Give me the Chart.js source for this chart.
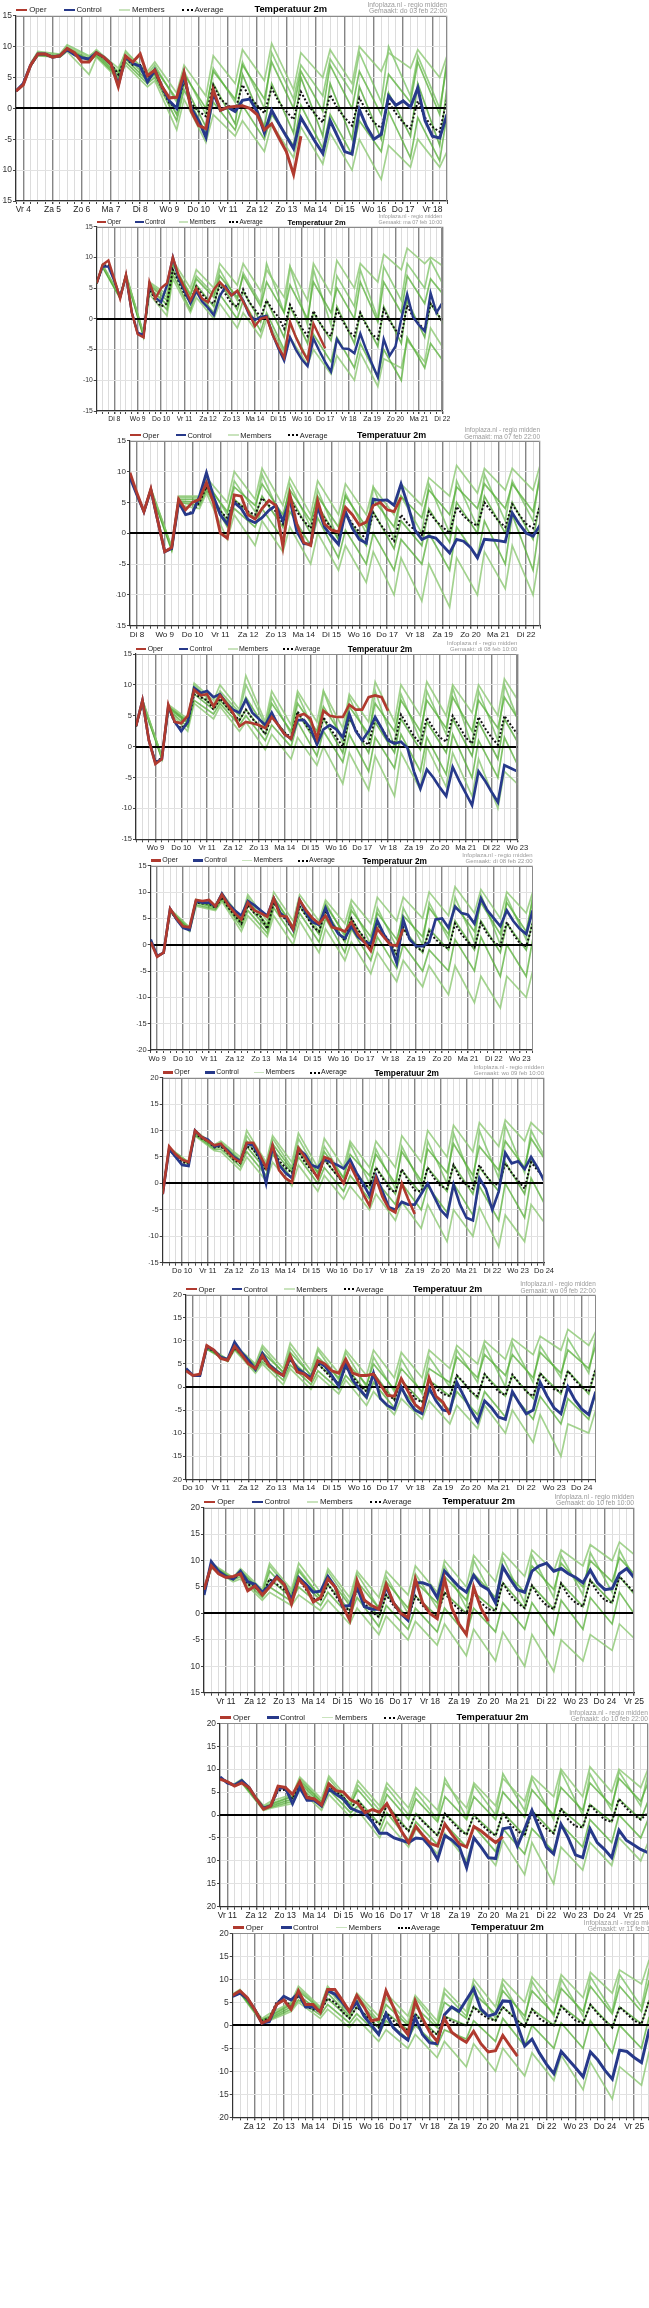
<!DOCTYPE html>
<html lang="nl">
<head>
<meta charset="utf-8"/>
<title>Temperatuur 2m pluimen</title>
<script src="https://cdn.jsdelivr.net/npm/chart.js"></script>
<style>
  html, body { margin: 0; padding: 0; background: #fff; overflow: hidden; }
  body { width: 649px; height: 2308px; position: relative; font-family: "Liberation Sans", Arial, sans-serif; }
  canvas { position: absolute; left: 0; }
  .txt { position: absolute; white-space: nowrap; color: #222; }
  .swatch { position: absolute; }
</style>
</head>
<body>
<script>
// dag-namen (7 feb 2022 = maandag)
const dayNames = ['Ma', 'Di', 'Wo', 'Do', 'Vr', 'Za', 'Zo'];
// modelrun per pluim (dag in februari, .5 = 12 UTC)
const runTimes = [3.5, 7, 7.5, 8, 8.5, 9, 9.5, 10, 10.5, 11];
const madeAt = ['do 03 feb 22:00', 'ma 07 feb 10:00', 'ma 07 feb 22:00', 'di 08 feb 10:00', 'di 08 feb 22:00',
                'wo 09 feb 10:00', 'wo 09 feb 22:00', 'do 10 feb 10:00', 'do 10 feb 22:00', 'vr 11 feb 10:00'];
const yRanges = [[-15, 15], [-15, 15], [-15, 15], [-15, 15], [-20, 15], [-15, 20], [-20, 20], [-15, 20], [-20, 20], [-20, 20]];

// ---- pluim 1 (do 03 feb 22:00) ----
const p1Oper = [2.8,3.8,7,8.8,8.8,8.3,8.5,9.7,9,7.5,7.5,9,8.3,7.2,3.5,8.5,7.5,8.8,5.3,6.2,3.5,1.7,1.8,5.8,-0.5,-2.8,-3.3,3,-0.3,0.2,0.3,0.4,0,-1,-3.5,-2.5,-4.8,-7,-10.7,-4.5];
const p1Control = [2.8,4,7,8.8,8.8,8.3,8.5,9.5,8.7,8.2,8,9,8.3,7.2,3.8,8.3,7.3,6.8,4.3,6.2,3.5,1.2,0,5.5,0,-2,-4.7,2.5,-0.3,0.2,-0.5,1.3,1.5,-0.5,-4,-0.3,-2.5,-4.5,-6.5,-1.5,-3.5,-5.5,-7.3,-2,-4.5,-7,-7.4,-0.2,-3,-5,-4.2,2,0.5,1.2,0.2,3.3,-2,-4.5,-4.8,-1];
const p1Average = [2.8,3.9,7,8.8,8.8,8.3,8.5,9.6,8.8,8.2,8,8.9,8.2,7.2,5.5,8.2,7,7,5,5.8,3.2,0.8,0.2,4.5,0.8,-0.5,-1.3,3.8,1.5,0.5,-0.3,3.8,1.8,0.5,-0.8,3.3,1,-0.5,-1.8,2.7,0.5,-1,-2.3,2.2,0,-1.5,-2.8,1.7,-0.5,-2.3,-3.2,1,-0.8,-2.3,-3.3,1.2,-1.5,-3,-3.8,1.5];
const p1Members = [
  [7.2,9,8.7,10,8.3,9.5,6.5,9,6,7.5,2.5,7,2,8.5,4,9.5,4.5,10.5,3,9,5,9.5,4,10,6,9,6.5,9.5,5,8.5],
  [7,8.8,8.5,9.8,8,9,5.8,8.5,5,6.5,1.5,5.5,0,6,1.5,7,1.5,7.5,0,6,-0.5,7,0,6,-1,5.5,1,7.5,-1,8],
  [6.8,8.7,8.4,9.6,7.8,8.8,5.3,8,4.5,5.5,-1,4,-3,4,-2.5,5.5,-3,4,-4,5,-4.5,4,-5,3.5,-5,2.5,-4.5,4,-6,3.5],
  [6.8,8.6,8.3,9.4,7.7,8.5,5,7.5,4,5,-2,3,-4,1,-3.5,0.5,-5,-1,-6,0.5,-6.5,-1,-7.5,-2,-7,-0.5,-8,-1.5,-8.5,-1],
  [7,8.5,8.3,9.2,5.5,8.3,4.7,7,3.5,4.5,-3.5,1.5,-5.5,-1,-4.5,-2,-7,-2.5,-8,-3,-9,-4,-10,-5,-11.5,-6,-9.5,-5,-9.5,-7],
  [7.3,9.2,8.8,10.3,8.5,9.3,6,9.3,5.5,7,1,6,-1,6.5,1,7.5,0,9,1.5,7,2,8,2.5,9,1,10,2,8.5,0,7]
];

// ---- pluim 2 (ma 07 feb 10:00) ----
const p2Oper = [5.8,8.8,9.5,6.5,3.3,7.2,1,-2.5,-3,6,3.3,5,5.8,10,7,5,3,5,3.3,2.7,4.8,6,5,3.8,4.6,2.8,1,-1.2,0,0.3,-2.5,-4.5,-6.3,-0.5,-3,-5,-6.7,-0.8,-2.8,-4.8];
const p2Control = [5.8,8.5,8.5,6.2,3.5,7,1,-2.3,-2.6,5.5,3.5,2.7,5.5,10,6.5,4.5,2.5,4.5,2.8,1.8,0.6,3.7,5.3,3.8,4.5,3,0.7,-0.2,0.3,0.5,-2.5,-4.8,-6.8,-3,-5,-6.6,-7.7,-3.2,-5.2,-7,-8.6,-3.3,-4.8,-4.9,-5.6,-2.4,-5,-7.3,-9.5,-3.3,-6,-4.5,0,4,0.3,-1,-2,4.2,1,2.6];
const p2Average = [5.8,8.6,8.8,6.3,3.5,7,1,-2.3,-2.7,5,3,2,2.5,8,6,4,2.8,5.3,4,3,2.5,5.5,4,2.5,2,4.8,2.8,1.5,0.3,3,1.5,0.3,-1.6,2.3,0.5,-1.5,-2.8,1.3,-0.5,-2,-2.8,1.5,-0.3,-2,-2.8,1,-1,-2.5,-3.3,1.6,-0.3,-1.8,-2.8,2.2,0.3,-0.8,-1.8,2.5,1.2,-0.5];
const p2Members = [
  [6,8.8,3.8,7.3,-2.4,6,4,9.5,5,8,5,9,5.5,9,4.5,8,3.5,8.5,3,9,4,9.5,5,9,6,10.5,8,11.5,9,10,8],
  [5.9,8.7,3.6,7.1,-2.5,5.5,3,8.8,3.8,6.5,3.5,7,3.5,7,2,6,1,5.5,0,6,1,5,0,6,-0.5,6,1,7,2.5,6.5,3],
  [5.8,8.6,3.5,7,-2.7,5,2.3,8,2.5,5.5,2,6,1.5,4.5,-0.5,3,-3,2,-4,1,-3.5,2,-4,1,-4.5,2,-4,3,-3,2.5,-2],
  [5.7,8.5,3.4,6.9,-2.8,4.5,1.5,7.2,1.5,4.5,1,4,0,3,-2,1,-5,-1,-6.5,-2.5,-7,-3,-8,-4,-9.5,-5,-10,-3,-8,-4,-8],
  [5.8,8.4,3.3,6.8,-3,4,0.5,6.5,1,3.5,0,2.5,-1.5,1,-3,0,-5.5,-3,-7.5,-5,-9,-6,-10,-5.5,-11,-6.5,-8,-3.5,-7,-1.5,-6],
  [5.9,8.8,3.6,7.2,-2.6,5.8,3.5,9,4,7,4,8,3,7.5,2.5,9,1,8.5,-1,8,-1,7,2,8,0,8.5,3,9,5,9.5,4]
];

// ---- pluim 3 (ma 07 feb 22:00) ----
const p3Oper = [9.8,6.5,3.5,7.2,2,-3,-2.3,5.5,3.8,5,5.5,8.2,5,0,-0.8,6.2,6,3,2.3,4,5.3,4.5,-2.2,6.3,1.5,-1.5,-2,5.3,1.5,0.5,0.2,4.2,3,1.3,1.8,4.5,5,3.8,3.5,5.8];
const p3Control = [9,6.2,3.5,7,2,-3,-2.5,5,3,3.3,6,9.8,6,3,1.5,5,4,2.2,1.7,2.5,3.7,4.5,2,5.5,0.3,-1.7,-1.8,4.3,1,-0.5,-1.8,3.5,0.8,-1,-1.6,5.5,5.3,5.4,4.5,8,4.5,0.5,-1,-0.5,-0.8,-2,-3.2,-1,-1.3,-2.3,-4,-1,-1.1,-1.2,-1.4,3.3,1.5,0,-0.5,1.3];
const p3Average = [9,6.3,3.5,7,2,-2.8,-2.5,5.2,3,3.5,5,7.5,5.5,3.5,2.5,5.2,4.5,3.5,3,5.7,4.5,3.5,1.5,5.7,3.5,2,0.8,4.5,2.3,0.8,-0.3,3.3,1.5,0.2,-1,3.3,1.5,0,-1.3,3,1.5,0.5,-0.3,3.5,2,1,0,4.3,2.8,1.8,1.2,5,3.5,2,1,4.7,3,1.5,0.8,4.5];
const p3Members = [
  [3.7,7.3,-2.2,6,6,9,5,10,5.5,10.5,4.5,9,3,8.5,3,8,3,7.5,3,8,4.5,9,6,11,6.5,10.5,7,10.5,7,11],
  [3.6,7.1,-2.4,5.5,5.5,8,3.5,7.5,4.5,8,3,7,2,6,1,6,1,5.5,1,6,2.5,7,3,7.5,4,8,4,8,3.5,9],
  [3.5,7,-2.5,5.2,5,7.5,2,5.5,2.5,6,1,6,0,4.5,-1,3,-2,3.5,-2.5,2,-2,4,-1.5,5,0,6,0,5,-1,5],
  [3.4,6.9,-2.7,5,4.5,7,1,4,1,4,-1,3.5,-2,2.5,-4,0.5,-5,0,-6,-1,-5,0,-6,1,-4,2,-5,3,-6,2],
  [3.4,6.8,-2.8,4.5,4,6.5,-1,3,-2,2,-3,1,-5,0,-6,-2,-8,-3,-10,-4,-11,-5,-12,-4,-10,-3,-9,-2,-10,-3],
  [3.6,7.2,-2.3,5.8,5.8,8.5,3,8.5,3.5,9.5,2,8,1,7,-1,6.5,0,7.5,-1,6,0,8,0,8.5,1,9.5,2,8.5,2,10]
];

// ---- pluim 4 (di 08 feb 10:00) ----
const p4Oper = [3.3,7.5,1,-2.8,-2,6.8,4,3.8,5,9.2,8.3,8.5,6.5,8.3,7,5.5,3.3,4,3.8,3.5,3,4.8,3.5,2,1.3,5,5.3,4.5,1.3,5.8,5,4.8,4.8,6.8,6,6,8,8.3,8,5.8];
const p4Control = [3.3,7.5,1,-2.6,-2,6.5,4,2.5,4,9.5,8.7,9,8,8.5,7,6,5.5,7.6,5.5,4.5,3.5,5.5,3.5,2,1.3,4.3,4.3,3,0.3,2.8,3.5,2.8,1.5,5.3,2.5,1,2.5,4.8,3,1,0.5,0.8,-0.2,-4,-6.8,-3.7,-5,-6.6,-8,-3.3,-5.5,-7.5,-9.5,-4,-5.5,-7.3,-9,-3,-3.5,-4];
const p4Average = [3.3,7.3,1,-2.5,-1.8,6.3,3.8,3,3.8,8.5,8,7.5,6,7.8,6.5,5.3,4.3,6,4.5,3.5,2,5,3.5,2.3,1.5,5.7,4,2.5,1,4.8,3,1.5,0,4.8,2.8,1,0.3,4.7,3,1.3,0.5,5.2,3.5,1.7,0.5,4.7,3,1.5,0.8,5,3.3,1.5,0.5,4.8,3,1.5,0.3,5,3.5,2];
const p4Members = [
  [3.4,7.6,-1.6,6.8,4.5,10.3,7.5,10,6,11.5,4,9,3.5,9,4,9,3,8.5,4,10.5,4,10,5,10.5,5,10,5.5,10,5,11,6],
  [3.3,7.4,-1.7,6.5,4,9,6.5,8.5,5,8,3,7,2.5,7,2.5,6.5,1.5,6.5,2,7,2.5,7.5,2.5,7.5,3,8,2.5,7.5,3,8,3],
  [3.3,7.3,-1.8,6.3,3.8,8.5,6,7.5,4.2,6,2,5,1,5.5,0.5,4.5,-1,4.5,-1,4,-1,4.5,-0.5,4,-1,4.5,-1.5,4,-2,4.5,-1],
  [3.2,7.2,-1.9,6,3.2,7.5,5.3,7,3.5,5,1,3.5,0,4,-1.5,2.5,-2.5,2,-4,1.5,-3.5,2,-4,1.5,-4.5,2,-5,1,-5,1.5,-5],
  [3.2,7.1,-2,5.8,2.5,7,4.5,6.5,2.5,4,-0.5,2,-2,1.5,-3,0,-6,-1,-7,-1.5,-8,-1,-7,0,-6.5,-1,-8,-2,-10,-4,-7],
  [3.4,7.5,-1.6,6.6,4.2,10,6.8,9,5.5,10,3.5,8,2,8.5,1.5,9,0.5,8,1,9,0,8.5,1,9,2,9.5,0,9,1,10,2]
];

// ---- pluim 5 (di 08 feb 22:00) ----
const p5Oper = [0.5,-2.3,-1.5,6.8,5,3.5,3.3,8.5,8.3,8.5,7.3,9.5,7.5,6,4.8,8,6.5,6,5.3,8.8,5.5,5.3,3,8.5,6.5,5,4,5.5,3.3,3,2.5,4.3,2,0.5,-1.2,3,1.5,0,-0.2,3];
const p5Control = [1,-2.2,-1.5,6.8,4.8,3.2,2.8,8.3,8,8,7.3,9.7,7.8,6.5,5.5,8.3,7.5,6.5,5.5,8.8,6,5,2.8,8.5,6,4.3,3.8,7,4,2,1.2,3.5,1.5,0.5,0.2,4.6,2,0,-3.5,4.8,1,-0.3,-0.3,0.5,4.8,5,3.2,7.2,6,5.7,4,8.8,6.5,5,3.5,6.5,4.5,3,2,6.5];
const p5Average = [0.8,-2.2,-1.5,6.5,4.8,3.3,3,8,7.8,7.8,7,9,7,5.5,4,7.5,6,5.3,3,8,6,4.5,2.8,7.3,5.5,3.5,2.5,6.5,4,2.3,0.8,5,2.8,1.3,-0.5,4,2,0.5,-1.8,3.3,1,-0.5,-1.2,2.5,1,0,-0.8,4,2,0.5,-0.5,4.2,2,0.5,-0.3,4.3,2,0.3,-0.3,4];
const p5Members = [
  [-1.3,6.8,3.3,8.6,7.5,9.8,5,9.5,4.5,10,4.5,9.5,4.5,8.5,4,8.5,4,9,4.5,9,5,10,5.5,11,6,10.5,5,10,6,10],
  [-1.4,6.6,3.2,8.2,7.2,9.3,4.5,8.3,3.8,9,3.5,8.3,3.5,7.5,2,6.5,1.5,6,1,5.5,1.5,7,2,7.5,2.5,8,2,8,2.5,8.5],
  [-1.5,6.5,3,8,7,9,4,7.5,3,8,2.8,7.3,2,6.5,0.5,5,-1,4,-2,3,-1.5,3,-1,4.5,-1,4.5,-1.5,4,-1,4.5],
  [-1.6,6.3,2.7,7.6,6.7,8.6,3.3,6.5,2.2,7,1.5,6,0.5,5,-1.5,3,-3,1.5,-4.5,0,-5,-1,-5,1,-5,1.5,-6,0,-6,1],
  [-1.7,6.2,2.5,7.3,6.5,8.2,2.5,5.5,1.5,5.5,0,4.5,-1.5,3,-3,0.5,-5.5,-1.5,-7,-3,-8,-4,-9.5,-4,-11,-6,-12,-6,-10,-5],
  [-1.5,6.7,3.1,8.4,7.3,9.5,4.2,9,3.3,9,3,8.5,2.5,8,1.5,7.5,0,7,-0.5,7,0,8,1,9,0.5,9.5,0,9,1,9.5]
];

// ---- pluim 6 (wo 09 feb 10:00) ----
const p6Oper = [-2,7,5.5,4.5,4,10,8.8,8,7.2,7.5,6,4.8,4,7.7,7.7,5.5,3,7.2,2.5,1,0.2,6.7,5,3,1,5,4.5,2,0,3.5,1,-2,-4.2,1,-2.5,-4.8,-5.5,0,-3,-5.8];
const p6Control = [-2,6.5,5,3.5,3.3,10,8.8,8.3,7,7.3,6.3,5,4.2,7.5,7.2,5,0,7,3.5,2,1,6.5,5.5,3.5,3,4.5,4,3.5,2.8,4.5,2,0,-2.3,1.5,-1.5,-4.5,-5,-3.5,-4,-4,-2,0,-2.5,-5,-6.3,-0.2,-4,-6.5,-7,1,-1,-5,-1.5,5.8,3.8,4.2,2.7,5,3,0.5];
const p6Average = [-1.8,6.5,5,4,3.8,9.5,8.5,8,6.8,7,5.8,4.5,3.8,7,6.5,4.5,2.5,6.5,4.3,3,2,6,4,2.5,1.3,4.5,3,1.5,0,3.3,1.5,-0.5,-0.5,3,1,-1,-1.7,2.7,0.5,-1.3,-1.5,3,1,-0.5,-1,3.5,1,-0.3,-1,3.5,1.5,0,-0.3,3.8,2,0.5,-1,4,2.5,1];
const p6Members = [
  [-1.7,6.8,4,10,7.3,8,5,10,4,9,4,9.5,3,8.5,3,8,3,8,3,9,4,10,5,11,6,11.5,7,12,8,11.5,8],
  [-1.8,6.7,3.9,9.8,7,7.5,4.3,8,3,7.5,2.5,7,2,6,1,5.5,1.5,5.5,0,6,0.5,6.5,2,7.5,1.5,7,2.5,8,3,8.5,3],
  [-1.8,6.5,3.8,9.5,6.8,7,3.8,7,2.5,6.5,2,6,1,4.5,0,3.3,-1,3,-2,2.5,-2,3,-1.5,3.5,-2,3,-1.5,4,-2,4.5,-1],
  [-1.9,6.4,3.6,9.2,6.5,6.5,3.2,6,1.5,5.5,1,5,0,3,-1.5,1.5,-3,0.5,-4,0,-5,-0.5,-5.5,0,-6,-0.5,-7,0,-6.5,1,-6],
  [-2,6.2,3.5,9,6.2,6,2.5,5,0.5,4,-0.5,3.5,-1.5,1.5,-3,-0.5,-5,-2,-7,-3.5,-8.5,-4,-11,-5,-10,-4.5,-12,-6,-11,-4,-9],
  [-1.7,6.6,4,9.8,7,7.8,4.5,9,3.5,8.5,3,8.5,2,7,1,7.5,0,6.5,-1,7,-0.5,8,0,9.5,0,10,1,11,2,10,3]
];

// ---- pluim 7 (wo 09 feb 22:00) ----
const p7Oper = [3.5,2.5,2.8,9,8,6.2,5.8,8.8,7,5,4,6.8,4.5,3.3,2.5,6.8,3.3,2.8,1.5,5.7,5,3.5,3,6,3,2.5,2.5,2.8,0.5,-1.8,-2,1.8,-1,-3.8,-5,2,-2,-3.3,-6];
const p7Control = [4,2.5,2.5,8.8,8,6.5,6,9.7,7.5,5.8,3.8,7.3,4.8,3.5,2.5,6.5,4,3,2,5.5,4.5,2.5,0.2,5,1.5,-0.5,-2.2,3,-2.5,-4,-4.8,0,-3,-5,-5.8,-0.2,-3,-5,-5.3,1,-2,-5,-7.5,-3,-4.5,-6.5,-7,-1,-3.5,-5.8,-5,1,-2,-4.5,-5.8,0,-2.8,-4.8,-6,-1];
const p7Average = [3.8,2.5,2.6,8.5,7.8,6.3,5.8,8.5,7,5.5,4,6.3,4.5,3.3,2.5,6,4,2.8,1.8,5,3.5,1.8,0.8,4.3,2.3,0.3,-1,3,0.5,-1.5,-2.8,1.5,-0.5,-2.5,-3.3,1.5,-0.3,-1.5,-2,2.5,1,-1,-2,2.8,0.8,-1,-1.8,2.7,0.8,-1,-2,3,1,-0.5,-1,3.5,1.5,0,-1,4];
const p7Members = [
  [2.8,8.8,6,9.2,5,9,4,9.5,3.5,8.5,3,8,2.5,8,2,7.5,2,8,4,9,5,10,6,10.5,7,11,8,12.5,9,12],
  [2.7,8.6,5.9,8.8,4.5,7.5,3.3,7.5,2.5,6.5,2,5.5,0.5,5,-0.5,4,-1,4,1,6.5,2,7,2.5,7,2,7.5,3,8,4,9],
  [2.6,8.5,5.8,8.5,4,6.3,2.5,6,1.8,5,0.8,4.3,-1,3,-2.8,1.5,-3.3,1.5,-2,2.5,-2.5,2.8,-2,2.5,-2.5,3,-1.5,3.5,-1.5,4],
  [2.5,8.3,5.6,8.2,3.5,5.5,1.5,4.8,0.5,3.5,-0.5,2.5,-2.5,1,-4.5,-0.5,-5.5,-1,-5,-1,-6,-1,-6.5,-1.5,-7,-2,-8,-2.5,-7,-1],
  [2.4,8.2,5.5,8,3,5,0.5,4,-0.5,2.5,-1.5,1.5,-4,-1,-6,-2.5,-7,-3,-8,-4,-9,-4,-10,-5,-12,-6,-15,-8,-10,-5],
  [2.7,8.7,5.9,9,4.8,8.5,3,8.5,2.5,8,1.5,7.5,0,6.5,-1,6,-1.5,6.5,0,8,1,9,0,9.5,1,9,2,10.5,3,11]
];

// ---- pluim 8 (do 10 feb 10:00) ----
const p8Oper = [4.5,9,7.5,6.8,7,7.5,4.3,5.2,3.5,5,6.8,5.5,1.8,6.5,5,2.2,3,6.5,5,1.5,-1.3,6.2,2.5,1.5,0.8,5.5,2,0,-0.8,6.5,2,0,-1,6.5,1,-2,-4,5,1,-1.5];
const p8Control = [3.5,9.8,8,7,6.5,8,6,5.5,4,5.3,7,5.5,2.5,6.8,5.5,4,4.2,7,5,1.3,1.5,5,1.3,0.8,0.8,5,2,0,-1.3,5.8,5.8,5.3,3,8,6.5,5,4,7.2,5.3,4.5,2,8.8,6.5,4.5,4,8,9,9.5,8,8.5,7.5,6.8,5.8,8.2,5.8,4.5,4.7,7.5,8.5,6.8];
const p8Average = [4,9,7.8,6.8,6.5,7.5,5.5,5,3.5,6.5,5.5,4.5,3,6.5,4.5,2.8,2.5,5.5,3.5,1.5,0.5,4.5,2,0.3,-0.7,3.5,1.5,0,-0.8,3.3,1.5,0,-0.5,4,2,0.8,0,4,2,0.8,0.5,5.8,3.5,2,1,5.3,3,1.5,0.8,5.7,3.3,2,1.3,6.3,4,2.5,2,7,5.5,4];
const p8Members = [
  [4.3,9.5,6.8,8.5,4.5,9.5,4.5,9.5,4,8.5,3,8,3,8,3.5,9,4,10,5,11,6,11.5,7,12,8,12,9,13,10,13.5,10],
  [4.1,9.2,6.6,8,4,8,3.5,8,3,7,1.5,6,1,6,1,6,2,7,2.5,7.5,3,8.5,4,9,4.5,9.5,5,10,6,10.5,6],
  [4,9,6.5,7.5,3.5,6.5,3,6.5,2.5,5.5,0.5,4.5,-0.7,3.5,-0.8,3.3,-0.5,4,0,4,0.5,5.8,1,5.3,0.8,5.7,1.3,6.3,2,7,2],
  [3.9,8.8,6.3,7,3,5,2.3,5,1.5,4,-0.5,3,-2.5,1.5,-3,1,-3.5,1,-4,1,-3.5,2,-3,2,-4,2.5,-3,3,-2,4,-2],
  [3.8,8.6,6,6.5,2.5,4,1.5,3.5,0.5,2.5,-2,1,-4,-0.5,-5,-1.5,-6,-2,-8,-3,-9,-3.5,-10,-4,-11,-5,-9,-4,-7,-2,-6],
  [4.2,9.3,6.7,8.2,4,9,4,8.5,3,8,2,7.5,1,7,0,7.5,1,9,1,10,2,10.5,2,11,3,11,3.5,11.5,4,12,4]
];

// ---- pluim 9 (do 10 feb 22:00) ----
const p9Oper = [7.8,7.3,6.3,7,6,3.5,1.3,2,6.3,6,4.5,7.3,3.8,3.5,2.2,6.8,5.3,5,3.3,2.5,0.5,1.2,0.6,2.5,-0.5,-3.5,-6,-2.5,-4.5,-6.2,-6.8,-2,-4.3,-6.3,-7,-2.5,-3.5,-4.8,-6,-4.7];
const p9Control = [8.3,7,6.5,7.5,6,3.5,1.5,2,5.8,6,2.5,6,3.2,3.2,2,5.7,4.5,3.5,1.5,0.8,0.3,-1.5,-4,-4,-5,-5.5,-6,-5,-5.2,-7,-9.7,-4.5,-5.5,-7,-11.5,-5,-7,-9.3,-9.5,-3,-2.7,-6.8,-3,1,-3,-7,-8.5,-2,-5,-8.7,-9.3,-3,-6,-7.5,-9.3,-3.3,-5.5,-6.5,-7.5,-8.2];
const p9Average = [8,7.3,6.5,7.3,5.8,3.5,1.5,2,5.3,5.5,3.5,7,4,3.5,2.3,6.5,5,4,1.5,3.3,1,-1,-2,2.3,0,-2,-3.5,0.3,-1.5,-3,-4.5,0.3,-1.5,-3.3,-4.3,0,-2,-3.5,-4.5,0.5,-2,-3.5,-4.5,1,-1.5,-3,-4,1.5,-1,-2.5,-2.7,2.3,0.5,-1,-1.5,3.5,1.5,0,-1,0.5];
const p9Members = [
  [6.8,7.8,2,3,4.5,8.3,3.5,8.5,3,7.5,2,7,1.5,6,1,7,1.5,7,2,8,3,8.5,4,10,4,10.5,5,10,6,10],
  [6.6,7.5,1.7,2.3,4,7.5,2.8,7,2.3,5.5,0,4.5,-1,3.5,-1.5,4,-1,4,-1,5,-0.5,5.5,0,6,1,7,2,8,3,7],
  [6.5,7.3,1.5,2,3.5,7,2.3,6.5,1.5,3.3,-2,2.3,-3.5,0.3,-4.5,0.3,-4.3,0,-4.5,0.5,-4.5,1,-4,1.3,-2.7,2.3,-1.5,3.5,-1,3],
  [6.4,7.1,1.2,1.7,3,6.3,1.7,5.5,0.5,2,-3.5,0.5,-5.5,-1.5,-6.5,-2,-7,-2.5,-8,-3,-8.5,-3,-8,-2,-7,-1,-6,0,-5,-1],
  [6.3,7,1,1.5,2.5,5.5,1,4.5,-0.5,1,-5,-1.5,-7,-3,-8.5,-4,-10,-5,-11,-5.5,-13,-6,-15,-7,-12,-6,-11,-5,-10,-6],
  [6.7,7.6,1.8,2.5,4.2,8,3,8,2,6.5,1,6,0,5,-1,8,-0.5,6.5,0,9,1,8,-1,9.5,0,9,1,9.5,2,9]
];

// ---- pluim 10 (vr 11 feb 10:00) ----
const p10Oper = [6.5,7.5,6,3.5,0.5,1.2,4.5,5.5,3.5,7.5,4.5,4.5,2.8,7.8,7.8,5.5,3,6.5,4,1,1.3,7.5,4,0,-2,5.3,1.5,-1.5,-3.5,1.5,-1.5,-2.7,-3.7,-1.3,-4,-5.8,-5.5,-2.2,-4.5,-6.7];
const p10Control = [6.3,7,5.8,3.5,0.5,0.8,4.5,6.3,5.5,7,4,4,3,7.5,6.8,5,3,5,2,0,-2,2.5,-0.5,-2,-3.2,1.7,-2,-3.8,-4,2.3,4,3,5.5,8,3.5,2,2.5,5.3,5.2,0,-4.5,-3,-6,-8.5,-10.5,-5.7,-7.5,-9.3,-11.2,-5.8,-7.5,-9.8,-11.7,-5.4,-5.7,-7,-8.1,-1.3,-3,-5];
const p10Average = [6.5,7.3,6,3.5,1,1.5,5,5.8,4,6.5,4,3.5,3,5.8,5,3,1.5,4,2.5,1,-0.5,2.8,1,-0.5,-1,2.5,0.5,-1,-2,2,0.8,0.3,0,4,2.5,1.5,1,4,2.5,1,-0.3,3.5,1.5,0.5,0,4.2,2.5,1,0.5,4.5,2.5,1,-0.5,4,2.5,1,0.3,5.2,3,1.5];
const p10Members = [
  [6.8,7.8,1.5,2.5,5,8.5,4,8.5,3,7,2,7,2,6.5,1,8,3,10,4,10,5,10.5,5,11,6,11.5,7,12,9,14,10],
  [6.6,7.5,1.2,1.8,4.5,7.5,3.5,7,2,5.5,0.5,4.5,0,4,-0.5,5,1.5,7,2.5,7.5,2,7.5,2.5,8,3,8.5,2.5,8.5,3,9.5,4],
  [6.5,7.3,1,1.5,4,6.5,3,5.8,1.5,4,-0.5,2.8,-1,2.5,-2,2,0,4,1,4,-0.3,3.5,0,4.2,0.5,4.5,-0.5,4,0.3,5.2,0],
  [6.4,7.1,0.8,1.2,3.5,5.5,2.2,4.5,0.5,2.5,-2,1,-3,0,-4.5,-1,-3,1,-3.5,1.5,-4.5,0,-5,0.5,-5,1,-6,0,-5,1.5,-6],
  [6.3,7,0.5,1,3,5,1.5,3.5,-0.5,1.5,-3.5,-1,-5,-2,-7,-3.5,-9,-4,-10,-5,-11,-6,-12,-6.5,-14,-8,-16,-9,-13,-6,-12],
  [6.7,7.6,1.3,2,4.8,8,3.8,8,2.5,6.5,1,6,0.5,6,0,7,2,9,1.5,9,1,9.5,2,10,2,10.5,3,11,4,12,5]
];

const operSeries = [p1Oper, p2Oper, p3Oper, p4Oper, p5Oper, p6Oper, p7Oper, p8Oper, p9Oper, p10Oper];
const controlSeries = [p1Control, p2Control, p3Control, p4Control, p5Control, p6Control, p7Control, p8Control, p9Control, p10Control];
const averageSeries = [p1Average, p2Average, p3Average, p4Average, p5Average, p6Average, p7Average, p8Average, p9Average, p10Average];
const memberSeries = [p1Members, p2Members, p3Members, p4Members, p5Members, p6Members, p7Members, p8Members, p9Members, p10Members];

// plaats van elk plotvlak op de pagina (px) en schaal van tekst
const boxes = [
  { L: 16, R: 447, T: 15.7, B: 201, s: 1.25 },
  { L: 96.7, R: 442.3, T: 226.7, B: 411, s: 1.0 },
  { L: 130, R: 540, T: 440.7, B: 625.7, s: 1.19 },
  { L: 136, R: 517.3, T: 654, B: 839.3, s: 1.11 },
  { L: 150.7, R: 532.7, T: 865.7, B: 1050, s: 1.11 },
  { L: 162.7, R: 544, T: 1077.7, B: 1262.7, s: 1.11 },
  { L: 186, R: 595.7, T: 1294.7, B: 1479.3, s: 1.19 },
  { L: 204, R: 634, T: 1507.7, B: 1692.7, s: 1.25 },
  { L: 220, R: 648, T: 1723.3, B: 1906.7, s: 1.24 },
  { L: 232.7, R: 663.4, T: 1933.3, B: 2117.3, s: 1.25 }
];

const FONT = '"Liberation Sans", Arial, sans-serif';
const CW = 690;
const OPER = '#b03a2f';
const CONTROL = '#27398a';
const memberColors = ['rgba(140,200,115,0.8)', 'rgba(85,175,55,0.75)', 'rgba(75,165,45,0.75)',
                      'rgba(85,175,55,0.75)', 'rgba(140,200,115,0.8)', 'rgba(110,190,85,0.7)'];

Chart.defaults.font.family = FONT;

function dayLabel(d) {
  return dayNames[((d - 7) % 7 + 7) % 7] + ' ' + d;
}
function toXY(values, r) {
  return values.map((v, i) => ({ x: r + 0.25 * (i + 1), y: v }));
}
function memberXY(values, firstDay) {
  return values.map((v, j) => ({ x: firstDay + Math.floor(j / 2) + (j % 2 ? 0.5 : 0.25), y: v }));
}

function addText(str, x, yc, size, css) {
  const el = document.createElement('div');
  el.className = 'txt';
  el.textContent = str;
  el.style.left = x + 'px';
  el.style.top = (yc - size * 0.6) + 'px';
  el.style.fontSize = size + 'px';
  el.style.lineHeight = (size * 1.2) + 'px';
  Object.assign(el.style, css || {});
  document.body.appendChild(el);
  return el;
}
function addSwatch(x, yc, w, css) {
  const el = document.createElement('div');
  el.className = 'swatch';
  el.style.left = x + 'px';
  el.style.width = w + 'px';
  el.style.top = (yc - 1.1) + 'px';
  el.style.height = '2.2px';
  Object.assign(el.style, css);
  document.body.appendChild(el);
}

const zeroAndFrame = {
  id: 'zeroAndFrame',
  beforeDatasetDraw(chart, args) {
    if (args.index !== 2) return;
    const { ctx, chartArea: a, scales: { y } } = chart;
    const py = Math.round(y.getPixelForValue(0));
    ctx.save();
    ctx.strokeStyle = '#000';
    ctx.lineWidth = 2;
    ctx.beginPath();
    ctx.moveTo(a.left, py);
    ctx.lineTo(a.right, py);
    ctx.stroke();
    ctx.restore();
  },
  afterDraw(chart) {
    const { ctx, chartArea: a } = chart;
    ctx.save();
    ctx.strokeStyle = '#8a8a8a';
    ctx.lineWidth = 1;
    ctx.beginPath();
    ctx.moveTo(a.left, Math.round(a.top) + 0.5);
    ctx.lineTo(Math.round(a.right) - 0.5, Math.round(a.top) + 0.5);
    ctx.lineTo(Math.round(a.right) - 0.5, a.bottom);
    ctx.stroke();
    ctx.restore();
  }
};

function buildPanel(k) {
  const box = boxes[k];
  const s = box.s;
  const r = runTimes[k];
  const [yMin, yMax] = yRanges[k];
  const yW = 14, xH = 17;
  const top = Math.floor(box.T - 8);
  const h = Math.ceil(box.B - top + xH + 3);
  const padBottom = h - xH - (box.B - top);

  const cv = document.createElement('canvas');
  cv.width = CW;
  cv.height = h;
  cv.style.top = top + 'px';
  cv.style.width = CW + 'px';
  cv.style.height = h + 'px';
  document.body.appendChild(cv);

  const firstDay = Math.ceil(r);
  const datasets = [
    { data: toXY(operSeries[k], r), borderColor: OPER, borderWidth: 2.4 * s },
    { data: toXY(controlSeries[k], r), borderColor: CONTROL, borderWidth: 2.4 * s },
    { data: toXY(averageSeries[k], r), borderColor: '#111', borderWidth: 2, borderDash: [2, 2] }
  ];
  memberSeries[k].forEach((m, j) => {
    datasets.push({ data: memberXY(m, firstDay), borderColor: memberColors[j], borderWidth: 1.7 });
  });

  new Chart(cv, {
    type: 'line',
    data: { datasets },
    options: {
      responsive: false,
      animation: false,
      events: [],
      layout: { padding: { left: box.L - yW, right: CW - box.R, top: box.T - top, bottom: padBottom } },
      elements: { point: { radius: 0 }, line: { tension: 0 } },
      plugins: { legend: { display: false }, tooltip: { enabled: false } },
      scales: {
        x: {
          type: 'linear',
          min: r + 0.25,
          max: r + 15,
          afterFit: sc => { sc.height = xH; },
          ticks: {
            stepSize: 0.25,
            autoSkip: false,
            maxRotation: 0,
            includeBounds: false,
            padding: 1,
            color: '#222',
            font: { size: 6.8 * s, family: FONT },
            callback: v => Number.isInteger(v) ? dayLabel(v) : ''
          },
          grid: {
            color: c => Number.isInteger(c.tick && c.tick.value) ? '#858585' : '#dcdcdc',
            lineWidth: c => Number.isInteger(c.tick && c.tick.value) ? 1.4 : 1,
            tickLength: 3,
            tickColor: '#444'
          },
          border: { color: '#333', width: 1.2 }
        },
        y: {
          min: yMin,
          max: yMax,
          afterFit: sc => { sc.width = yW; },
          ticks: { stepSize: 5, padding: 1, color: '#333', font: { size: 6.8 * s, family: FONT } },
          grid: {
            color: c => (c.tick && c.tick.value === 0) ? 'rgba(0,0,0,0)' : '#e2e2e2',
            tickLength: 3,
            tickColor: '#444'
          },
          border: { color: '#333', width: 1.2 }
        }
      }
    },
    plugins: [zeroAndFrame]
  });

  // legenda en titel
  const ly = box.T - 4.6 * s;
  const fs = 6.3 * s;
  const L = box.L;
  addSwatch(L, ly, 9 * s, { background: OPER });
  addText('Oper', L + 10.5 * s, ly, fs);
  addSwatch(L + 38.3 * s, ly, 9 * s, { background: CONTROL });
  addText('Control', L + 48.3 * s, ly, fs);
  addSwatch(L + 82.5 * s, ly, 9 * s, { background: '#c9e3bd', height: '1.5px', top: (ly - 0.75) + 'px' });
  addText('Members', L + 92.7 * s, ly, fs);
  addSwatch(L + 132.5 * s, ly, 9 * s, { borderTop: '2px dotted #000', height: '0px', top: (ly - 1) + 'px' });
  addText('Average', L + 142.7 * s, ly, fs);
  addText('Temperatuur 2m', L + 190.7 * s, ly, 7.5 * s, { fontWeight: 'bold', color: '#000' });

  const gs = 5.4 * s;
  addText('Infoplaza.nl - regio midden', 0, box.T - 10.5, gs, { left: '', right: (649 - box.R) + 'px', color: '#9a9a9a' });
  addText('Gemaakt: ' + madeAt[k], 0, box.T - 4.3, gs, { left: '', right: (649 - box.R) + 'px', color: '#9a9a9a' });
}

for (let k = 0; k < boxes.length; k++) buildPanel(k);
</script>
</body>
</html>
